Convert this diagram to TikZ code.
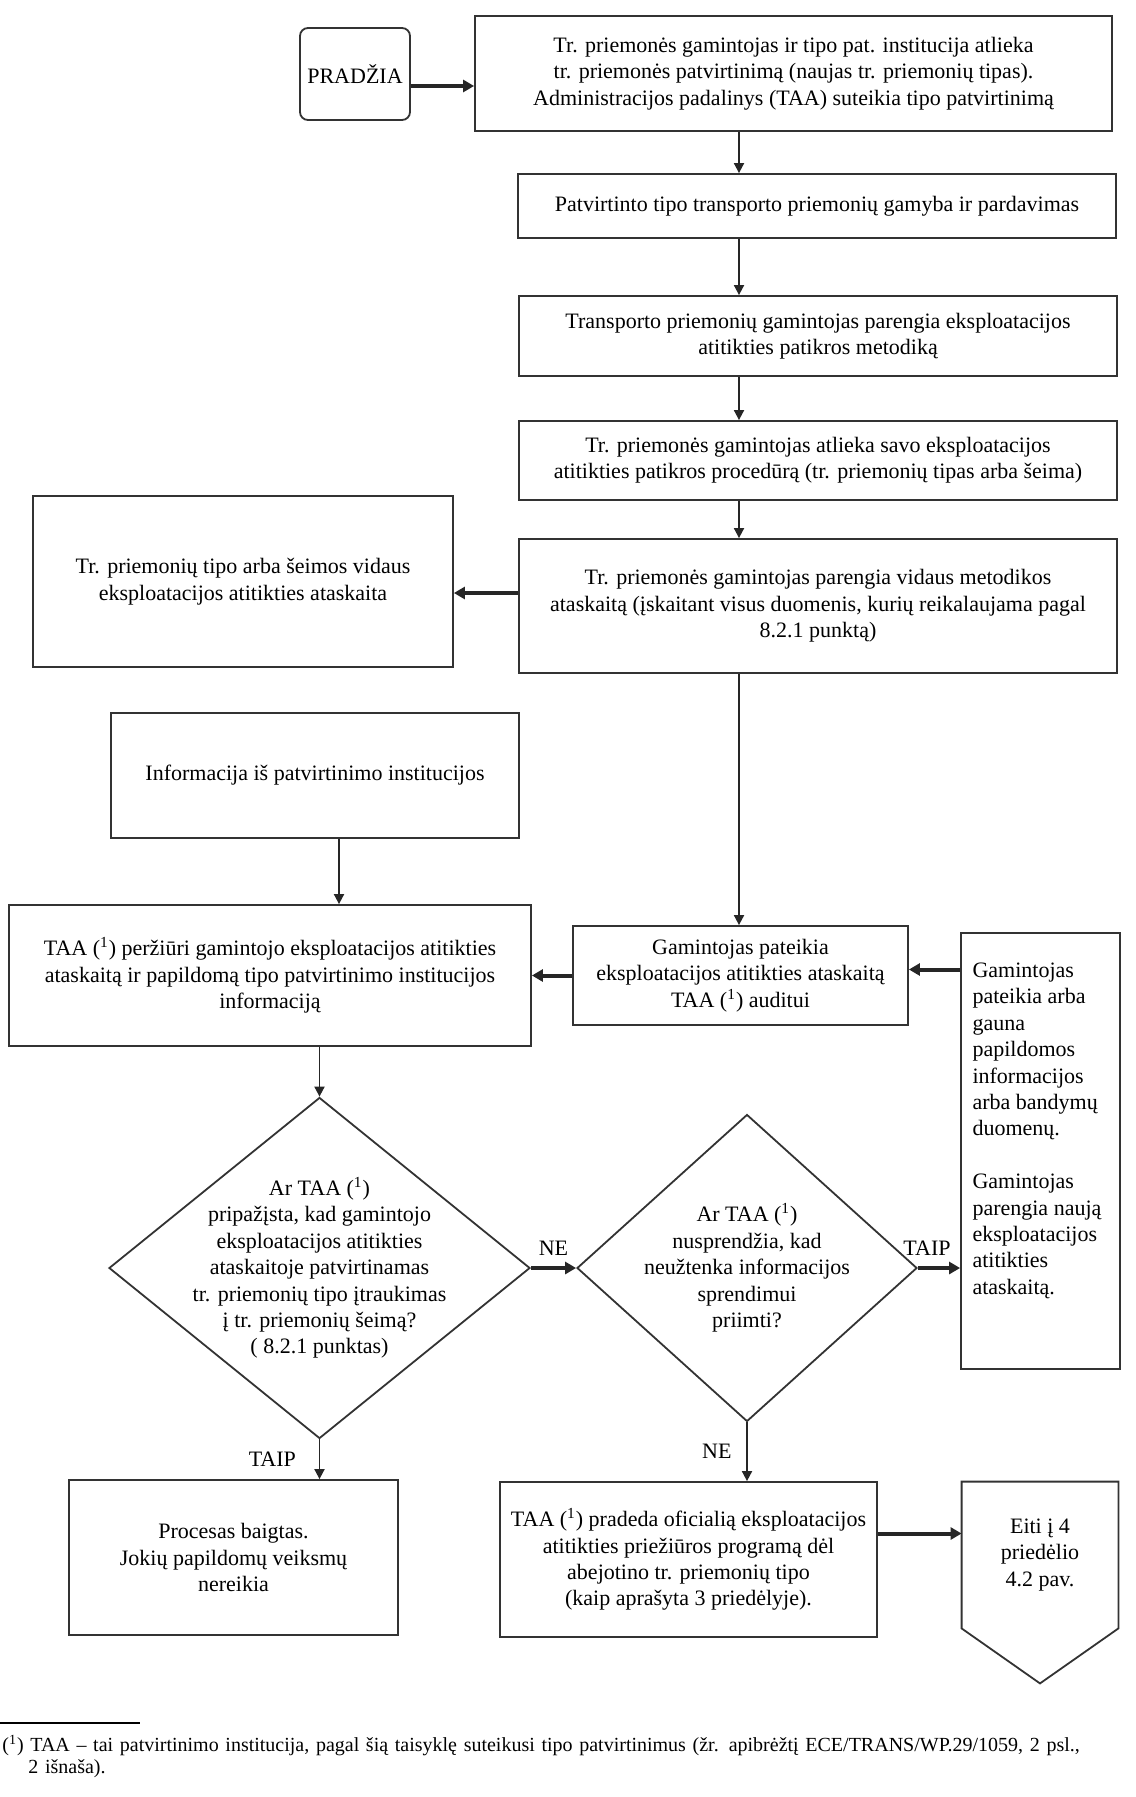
\documentclass[tikz,border=0pt]{standalone}
\usepackage{fontspec}
\setmainfont{Liberation Serif}
\usetikzlibrary{arrows.meta,positioning,shapes.geometric,calc}
\tikzset{
 box/.style={draw=black!80,line width=0.9pt,align=center,inner sep=3pt,
             font=\fontsize{11}{13.2}\selectfont},
 startbox/.style={box,rounded corners=4pt},
 decision/.style={draw=black!80,line width=0.9pt,diamond,inner sep=0pt,
             font=\fontsize{11}{13.2}\selectfont},
 arrow/.style={-{Triangle[length=5pt,width=5pt]},line width=0.9pt,black!85},
 thickarrow/.style={-{Triangle[length=5.5pt,width=6pt]},line width=2pt,black!85},
 branch/.style={font=\fontsize{11}{13.2}\selectfont,black}
}

\begin{document}
\begin{tikzpicture}[x=0.5pt,y=-0.5pt]
\useasboundingbox (0,0) rectangle (1135,1797);
% top chain
\node[startbox,minimum width=55pt,minimum height=46pt] (start) at (355,74) {PRADŽIA};
\node[box,minimum width=318.5pt,minimum height=57.5pt] (b1) at (793.5,73.5)
  {Tr. priemonės gamintojas ir tipo pat. institucija atlieka\\
   tr. priemonės patvirtinimą (naujas tr. priemonių tipas).\\
   Administracijos padalinys (TAA) suteikia tipo patvirtinimą};
\node[box,minimum width=299pt,minimum height=32pt] (b2) at (817,206)
  {Patvirtinto tipo transporto priemonių gamyba ir pardavimas};
\node[box,minimum width=299pt,minimum height=40pt] (b3) at (818,336)
  {Transporto priemonių gamintojas parengia eksploatacijos\\
   atitikties patikros metodiką};
\node[box,minimum width=299pt,minimum height=39.5pt] (b4) at (818,460.5)
  {Tr. priemonės gamintojas atlieka savo eksploatacijos\\
   atitikties patikros procedūrą (tr. priemonių tipas arba šeima)};
\node[box,minimum width=299pt,minimum height=67pt] (b5) at (818,606)
  {Tr. priemonės gamintojas parengia vidaus metodikos\\
   ataskaitą (įskaitant visus duomenis, kurių reikalaujama pagal\\
   8.2.1 punktą)};
\node[box,minimum width=210pt,minimum height=85.5pt] (side) at (243,581.5)
  {Tr. priemonių tipo arba šeimos vidaus\\
   eksploatacijos atitikties ataskaita};
% audit part
\node[box,minimum width=204pt,minimum height=62.5pt] (info) at (315,775.5)
  {Informacija iš patvirtinimo institucijos};
\node[box,minimum width=261pt,minimum height=70.5pt] (review) at (270,975.5)
  {TAA (\textsuperscript{1}) peržiūri gamintojo eksploatacijos atitikties\\
   ataskaitą ir papildomą tipo patvirtinimo institucijos\\
   informaciją};
\node[box,minimum width=167.5pt,minimum height=49.5pt] (submit) at (740.5,975.5)
  {Gamintojas pateikia\\
   eksploatacijos atitikties ataskaitą\\
   TAA (\textsuperscript{1}) auditui};
\node[box,inner sep=0pt,minimum width=79.5pt,minimum height=218pt] (extra) at (1040.5,1151)
  {\parbox[c][218pt][t]{68pt}{\vspace*{15pt}\raggedright
   Gamintojas\\ pateikia arba\\ gauna\\ papildomos\\ informacijos\\ arba bandymų\\ duomenų.\\[13.2pt]
   Gamintojas\\ parengia naują\\ eksploatacijos\\ atitikties\\ ataskaitą.}};
% decisions
\node[decision,minimum width=210.5pt,minimum height=170.5pt,
  label={[branch,align=center]center:{Ar TAA (\textsuperscript{1})\\
   pripažįsta, kad gamintojo\\ eksploatacijos atitikties\\ ataskaitoje patvirtinamas\\
   tr. priemonių tipo įtraukimas\\ į tr. priemonių šeimą?\\ ( 8.2.1 punktas)}}] (d1) at (319.5,1268) {};
\node[decision,minimum width=170pt,minimum height=153.5pt,
  label={[branch,align=center]center:{Ar TAA (\textsuperscript{1})\\
   nusprendžia, kad\\ neužtenka informacijos\\ sprendimui\\ priimti?}}] (d2) at (747,1268) {};
% ends
\node[box,minimum width=164.5pt,minimum height=77.5pt] (done) at (233.5,1557.5)
  {Procesas baigtas.\\ Jokių papildomų veiksmų\\ nereikia};
\node[box,minimum width=188.5pt,minimum height=77.5pt] (formal) at (688.5,1559.5)
  {TAA (\textsuperscript{1}) pradeda oficialią eksploatacijos\\
   atitikties priežiūros programą dėl\\ abejotino tr. priemonių tipo\\
   (kaip aprašyta 3 priedėlyje).};
\node[align=center,font=\fontsize{11}{13.2}\selectfont,minimum width=78pt,minimum height=73pt] (goto) at (1040,1555)
  {Eiti į 4\\ priedėlio\\ 4.2 pav.};
\draw[draw=black!80,line width=0.9pt] (goto.north west) -- (goto.north east) -- (goto.south east)
  -- ([yshift=-27.5pt]goto.south) -- (goto.south west) -- cycle;

% connectors
\draw[thickarrow] ([yshift=-6pt]start.east) -- ([yshift=-6pt]start.east -| b1.west);
\coordinate (spine) at (739,0);
\draw[arrow] (b1.south -| spine) -- (b2.north -| spine);
\draw[arrow] (b2.south -| spine) -- (b3.north -| spine);
\draw[arrow] (b3.south -| spine) -- (b4.north -| spine);
\draw[arrow] (b4.south -| spine) -- (b5.north -| spine);
\draw[thickarrow] ([yshift=6.5pt]b5.west) -- ([yshift=6.5pt]b5.west -| side.east);
\draw[arrow] (b5.south -| spine) -- (submit.north -| spine);
\draw[arrow] ([xshift=12pt]info.south) -- ([xshift=12pt]info.south |- review.north);
\draw[thickarrow] (submit.west) -- (submit.west -| review.east);
\draw[thickarrow] ([yshift=3pt]extra.west |- submit.east) -- ([yshift=3pt]submit.east);
\draw[arrow] (review.south -| d1.north) -- (d1.north);
\draw[thickarrow] (d1.east) -- node[branch,above=2pt] {NE} (d2.west);
\draw[thickarrow] (d2.east) -- node[branch,above=2pt,xshift=-6pt] {TAIP} (d2.east -| extra.west);
\draw[arrow] (d1.south) -- node[branch,left=8pt] {TAIP} (d1.south |- done.north);
\draw[arrow] (d2.south) -- node[branch,left=4pt] {NE} (d2.south |- formal.north);
\draw[thickarrow] ([yshift=13pt]formal.east) -- ([yshift=13pt]formal.east -| goto.west);

% footnote
\draw[line width=0.6pt] (0,1723) -- (140,1723);
\node[anchor=north west,inner sep=0pt,text width=560pt,font=\fontsize{10}{11}\selectfont] (note) at (2,1735)
  {(\textsuperscript{1}) TAA -- tai patvirtinimo institucija, pagal šią taisyklę suteikusi tipo patvirtinimus (žr. apibrėžtį ECE/TRANS/WP.29/1059, 2 psl.,\newline\hspace*{13pt}2 išnaša).};
\end{tikzpicture}
\end{document}
